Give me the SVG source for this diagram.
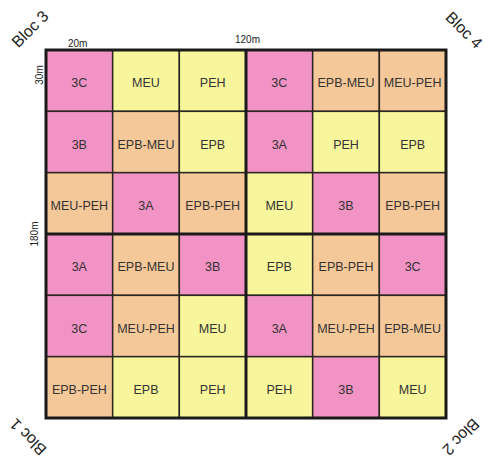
<svg xmlns="http://www.w3.org/2000/svg" width="488" height="463" viewBox="0 0 488 463">
<style>
.p{fill:#F293C5}
.y{fill:#F7F69C}
.o{fill:#F5C899}
.c rect{stroke:#2a2622;stroke-width:1.5}
.c text{font-family:"Liberation Sans",Arial,sans-serif;font-size:12.5px;fill:#333;text-anchor:middle;dominant-baseline:central}
.dim{font-family:"Liberation Sans",Arial,sans-serif;font-size:10px;fill:#222}
.bloc{font-family:"Liberation Sans",Arial,sans-serif;font-size:16px;fill:#222;text-anchor:middle;dominant-baseline:central}
.thick{stroke:#1a1a1a;stroke-width:3;fill:none}
</style>
<rect width="488" height="463" fill="#fff"/>
<g id="cells">
<g id="r1c1" class="c"><rect class="p" x="46" y="50" width="66.67" height="61.33"/><text x="79.33" y="83.17">3C</text></g>
<g id="r1c2" class="c"><rect class="y" x="112.67" y="50" width="66.67" height="61.33"/><text x="146" y="83.17">MEU</text></g>
<g id="r1c3" class="c"><rect class="y" x="179.33" y="50" width="66.67" height="61.33"/><text x="212.67" y="83.17">PEH</text></g>
<g id="r1c4" class="c"><rect class="p" x="246" y="50" width="66.67" height="61.33"/><text x="279.33" y="83.17">3C</text></g>
<g id="r1c5" class="c"><rect class="o" x="312.67" y="50" width="66.67" height="61.33"/><text x="346" y="83.17">EPB-MEU</text></g>
<g id="r1c6" class="c"><rect class="o" x="379.33" y="50" width="66.67" height="61.33"/><text x="412.67" y="83.17">MEU-PEH</text></g>

<g id="r2c1" class="c"><rect class="p" x="46" y="111.33" width="66.67" height="61.33"/><text x="79.33" y="144.5">3B</text></g>
<g id="r2c2" class="c"><rect class="o" x="112.67" y="111.33" width="66.67" height="61.33"/><text x="146" y="144.5">EPB-MEU</text></g>
<g id="r2c3" class="c"><rect class="y" x="179.33" y="111.33" width="66.67" height="61.33"/><text x="212.67" y="144.5">EPB</text></g>
<g id="r2c4" class="c"><rect class="p" x="246" y="111.33" width="66.67" height="61.33"/><text x="279.33" y="144.5">3A</text></g>
<g id="r2c5" class="c"><rect class="y" x="312.67" y="111.33" width="66.67" height="61.33"/><text x="346" y="144.5">PEH</text></g>
<g id="r2c6" class="c"><rect class="y" x="379.33" y="111.33" width="66.67" height="61.33"/><text x="412.67" y="144.5">EPB</text></g>

<g id="r3c1" class="c"><rect class="o" x="46" y="172.67" width="66.67" height="61.33"/><text x="79.33" y="205.83">MEU-PEH</text></g>
<g id="r3c2" class="c"><rect class="p" x="112.67" y="172.67" width="66.67" height="61.33"/><text x="146" y="205.83">3A</text></g>
<g id="r3c3" class="c"><rect class="o" x="179.33" y="172.67" width="66.67" height="61.33"/><text x="212.67" y="205.83">EPB-PEH</text></g>
<g id="r3c4" class="c"><rect class="y" x="246" y="172.67" width="66.67" height="61.33"/><text x="279.33" y="205.83">MEU</text></g>
<g id="r3c5" class="c"><rect class="p" x="312.67" y="172.67" width="66.67" height="61.33"/><text x="346" y="205.83">3B</text></g>
<g id="r3c6" class="c"><rect class="o" x="379.33" y="172.67" width="66.67" height="61.33"/><text x="412.67" y="205.83">EPB-PEH</text></g>

<g id="r4c1" class="c"><rect class="p" x="46" y="234" width="66.67" height="61.33"/><text x="79.33" y="267.17">3A</text></g>
<g id="r4c2" class="c"><rect class="o" x="112.67" y="234" width="66.67" height="61.33"/><text x="146" y="267.17">EPB-MEU</text></g>
<g id="r4c3" class="c"><rect class="p" x="179.33" y="234" width="66.67" height="61.33"/><text x="212.67" y="267.17">3B</text></g>
<g id="r4c4" class="c"><rect class="y" x="246" y="234" width="66.67" height="61.33"/><text x="279.33" y="267.17">EPB</text></g>
<g id="r4c5" class="c"><rect class="o" x="312.67" y="234" width="66.67" height="61.33"/><text x="346" y="267.17">EPB-PEH</text></g>
<g id="r4c6" class="c"><rect class="p" x="379.33" y="234" width="66.67" height="61.33"/><text x="412.67" y="267.17">3C</text></g>

<g id="r5c1" class="c"><rect class="p" x="46" y="295.33" width="66.67" height="61.33"/><text x="79.33" y="328.5">3C</text></g>
<g id="r5c2" class="c"><rect class="o" x="112.67" y="295.33" width="66.67" height="61.33"/><text x="146" y="328.5">MEU-PEH</text></g>
<g id="r5c3" class="c"><rect class="y" x="179.33" y="295.33" width="66.67" height="61.33"/><text x="212.67" y="328.5">MEU</text></g>
<g id="r5c4" class="c"><rect class="p" x="246" y="295.33" width="66.67" height="61.33"/><text x="279.33" y="328.5">3A</text></g>
<g id="r5c5" class="c"><rect class="o" x="312.67" y="295.33" width="66.67" height="61.33"/><text x="346" y="328.5">MEU-PEH</text></g>
<g id="r5c6" class="c"><rect class="o" x="379.33" y="295.33" width="66.67" height="61.33"/><text x="412.67" y="328.5">EPB-MEU</text></g>

<g id="r6c1" class="c"><rect class="o" x="46" y="356.67" width="66.67" height="61.33"/><text x="79.33" y="389.83">EPB-PEH</text></g>
<g id="r6c2" class="c"><rect class="y" x="112.67" y="356.67" width="66.67" height="61.33"/><text x="146" y="389.83">EPB</text></g>
<g id="r6c3" class="c"><rect class="y" x="179.33" y="356.67" width="66.67" height="61.33"/><text x="212.67" y="389.83">PEH</text></g>
<g id="r6c4" class="c"><rect class="y" x="246" y="356.67" width="66.67" height="61.33"/><text x="279.33" y="389.83">PEH</text></g>
<g id="r6c5" class="c"><rect class="p" x="312.67" y="356.67" width="66.67" height="61.33"/><text x="346" y="389.83">3B</text></g>
<g id="r6c6" class="c"><rect class="y" x="379.33" y="356.67" width="66.67" height="61.33"/><text x="412.67" y="389.83">MEU</text></g>
</g>
<g id="borders">
<rect class="thick" x="46" y="50" width="400" height="368"/>
<line class="thick" x1="246" y1="50" x2="246" y2="418"/>
<line class="thick" x1="46" y1="234" x2="446" y2="234"/>
</g>
<g id="dimensions">
<text class="dim" x="68" y="47">20m</text>
<text class="dim" x="235" y="43">120m</text>
<text class="dim" transform="translate(43,75) rotate(-90)" text-anchor="middle">30m</text>
<text class="dim" transform="translate(37.5,234) rotate(-90)" text-anchor="middle">180m</text>
</g>
<g id="blocs">
<text class="bloc" transform="translate(30,29) rotate(-45)">Bloc 3</text>
<text class="bloc" transform="translate(464,30) rotate(45)">Bloc 4</text>
<text class="bloc" transform="translate(28,437) rotate(-135)">Bloc 1</text>
<text class="bloc" transform="translate(461,437) rotate(135)">Bloc 2</text>
</g>
</svg>
